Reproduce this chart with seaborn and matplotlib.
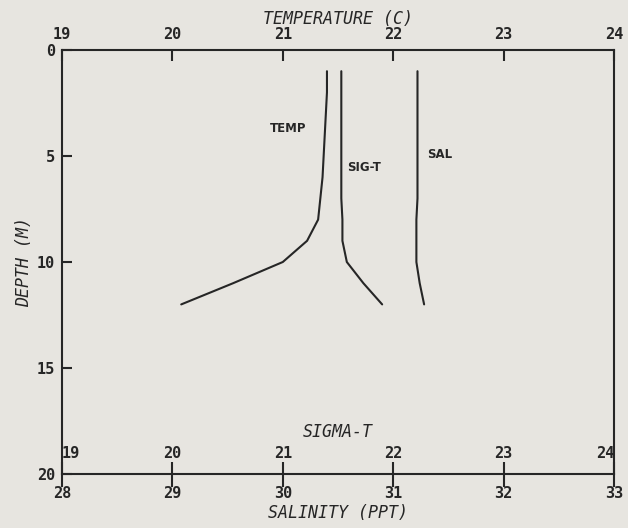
import matplotlib
matplotlib.use("Agg")
import matplotlib.pyplot as plt
import seaborn as sns
import numpy as np

# ---- data ----
depth = [1, 2, 3, 4, 5, 6, 7, 8, 9, 10, 11, 12]
temperature = [21.40, 21.40, 21.39, 21.38, 21.37, 21.36, 21.34, 21.32, 21.22, 21.00, 20.55, 20.08]
sigma_t = [21.53, 21.53, 21.53, 21.53, 21.53, 21.53, 21.53, 21.54, 21.54, 21.58, 21.73, 21.90]
salinity = [31.22, 31.22, 31.22, 31.22, 31.22, 31.22, 31.22, 31.21, 31.21, 31.21, 31.24, 31.28]

temp_ticks = [19, 20, 21, 22, 23, 24]
sigma_ticks = [19, 20, 21, 22, 23, 24]
sal_ticks = [28, 29, 30, 31, 32, 33]
depth_ticks = [0, 5, 10, 15, 20]

sns.set_theme(style="white")
plt.rcParams['font.family'] = ['DejaVu Sans Mono', 'DejaVu Sans']

bg = '#e7e5e0'
ink = '#262626'

fig = plt.figure(figsize=(6.28, 5.28), dpi=100, facecolor=bg)
ax = fig.add_axes([62/628, 1-474/528, 552/628, 424/528])
ax.set_facecolor(bg)
axS = ax.twiny()
axP = ax.twiny()

lw = 1.5
sns.lineplot(x=temperature, y=depth, ax=ax, sort=False, estimator=None, color=ink, linewidth=lw)
sns.lineplot(x=sigma_t, y=depth, ax=axS, sort=False, estimator=None, color=ink, linewidth=lw)
sns.lineplot(x=salinity, y=depth, ax=axP, sort=False, estimator=None, color=ink, linewidth=lw)

ax.set_xlim(19, 24)
axS.set_xlim(19, 24)
axP.set_xlim(28, 33)
ax.set_ylim(20, 0)

tick_font = dict(family='DejaVu Sans Mono', weight='bold', size=11)
lab_font = dict(family='DejaVu Sans Mono', style='italic', size=12)

for a in (ax, axS, axP):
    for s in a.spines.values():
        s.set_visible(False)
for s in ax.spines.values():
    s.set_visible(True)
    s.set_color(ink)
    s.set_linewidth(1.5)

# temperature axis (top)
ax.xaxis.tick_top()
ax.xaxis.set_label_position('top')
ax.set_xticks(temp_ticks)
ax.set_xticklabels([str(t) for t in temp_ticks], fontdict=tick_font, color=ink)
ax.tick_params(axis='x', direction='in', length=8, width=1.5, color=ink, pad=6, bottom=False, top=True)
ax.set_xlabel('TEMPERATURE (C)', fontdict=lab_font, color=ink, labelpad=2)

# depth axis
ax.set_yticks(depth_ticks)
ax.set_yticklabels([str(d) for d in depth_ticks], fontdict=tick_font, color=ink)
ax.tick_params(axis='y', direction='in', length=7, width=1.5, color=ink, pad=5, left=True, right=False)
ax.set_ylabel('DEPTH (M)', fontdict=lab_font, color=ink, labelpad=3)

# sigma-t axis (labels above bottom line, inside)
axS.xaxis.set_ticks_position('bottom')
axS.set_xticks(sigma_ticks)
axS.set_xticklabels([str(t) for t in sigma_ticks], fontdict=tick_font, color=ink)
axS.tick_params(axis='x', length=0, pad=-20, top=False, bottom=True, labeltop=False, labelbottom=True)
for i, tk in enumerate(axS.xaxis.get_major_ticks()):
    if i == 0:
        tk.label1.set_horizontalalignment('left')
    elif i == len(sigma_ticks) - 1:
        tk.label1.set_horizontalalignment('right')
axS.text(0.5, 0.099, 'SIGMA-T', transform=axS.transAxes, ha='center', va='center',
         fontdict=lab_font, color=ink)

# salinity axis (bottom)
axP.xaxis.set_ticks_position('bottom')
axP.xaxis.set_label_position('bottom')
axP.set_xticks(sal_ticks)
axP.set_xticklabels([str(t) for t in sal_ticks], fontdict=tick_font, color=ink)
axP.tick_params(axis='x', direction='inout', length=18, width=1.5, color=ink, pad=0,
                top=False, bottom=True, labeltop=False, labelbottom=True)
axP.set_xlabel('SALINITY (PPT)', fontdict=lab_font, color=ink, labelpad=2)

# curve labels
lbl = dict(family='DejaVu Sans', weight='bold', size=8.5)
ax.text(21.05, 3.68, 'TEMP', ha='center', va='center', fontdict=lbl, color=ink)
axS.text(21.74, 5.52, 'SIG-T', ha='center', va='center', fontdict=lbl, color=ink)
axP.text(31.42, 4.95, 'SAL', ha='center', va='center', fontdict=lbl, color=ink)

fig.savefig('out.png', dpi=100, facecolor=bg)
